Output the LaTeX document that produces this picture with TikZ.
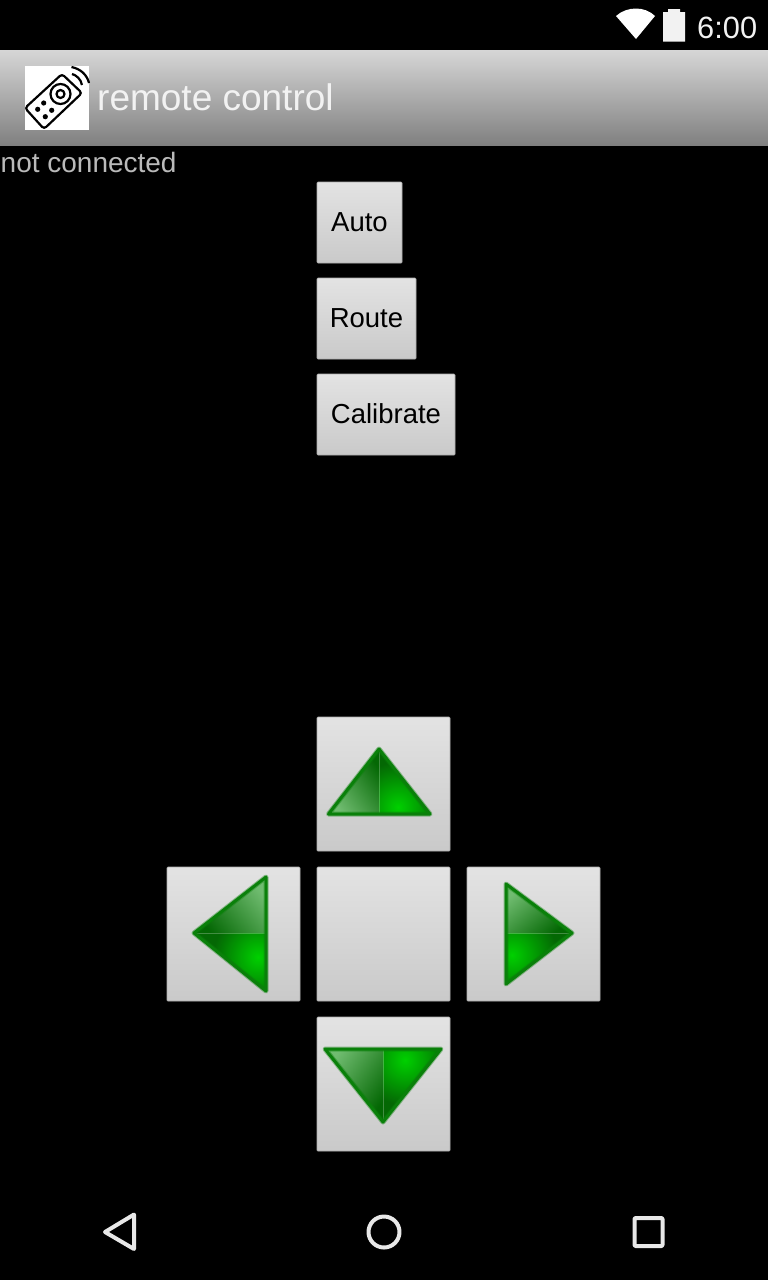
\documentclass[tikz,border=0pt]{standalone}
\usepackage{fontspec}
\setmainfont{Liberation Sans}
\definecolor{edgegreen}{HTML}{0A800A}
\definecolor{darkgreen}{HTML}{046804}
\definecolor{brightgreen}{HTML}{00D000}
\definecolor{lightgreen}{HTML}{70BC70}
\definecolor{navgray}{HTML}{E8E8E8}
\tikzset{
	padbutton/.style={draw=black!32, line width=0.7, rounded corners=1, top color=black!11, bottom color=black!21,
		anchor=north west, inner sep=0, outer sep=0, minimum height=81, text height=17, text depth=0,
		font=\fontsize{27.5}{30}\selectfont},
	arrowbutton/.style={padbutton, minimum width=133, minimum height=134},
	navicon/.style={draw=navgray, line width=4, line join=round},
	iconline/.style={black, line width=2.2},
}
\newcommand{\greenarrow}[6]{
	\fill[top color=lightgreen, bottom color=darkgreen, shading angle=#6] #1 -- #2 -- #4 -- cycle;
	\begin{scope}
	\clip #1 -- #3 -- #4 -- cycle;
	\fill[darkgreen] (150,700) rectangle (620,1160);
	\shade[inner color=brightgreen, outer color=darkgreen] #5 circle (45);
	\end{scope}
	\draw[white, opacity=0.25, line width=1] #1 -- #4;
	\draw[edgegreen, opacity=0.4, line width=5, line join=round] #1 -- #2 -- #3 -- cycle;
	\draw[edgegreen, line width=3, line join=round] #1 -- #2 -- #3 -- cycle;
}
\begin{document}
\begin{tikzpicture}[x=1pt, y=-1pt]
\useasboundingbox (0,0) rectangle (768,1280);
\fill[black] (0,0) rectangle (768,1280);
% status bar
\fill[white] (616,16) .. controls (627,6) and (645,6) .. (655,16) -- (636,39) -- cycle;
\fill[white!95!black] (668,12) -- (668,9) -- (680,9) -- (680,12) -- (685,12) -- (685,41.5) -- (663,41.5) -- (663,12) -- cycle;
\node[anchor=base west, inner sep=0, text=white!95!black, font=\fontsize{30.8}{32}\selectfont] (clock) at (697,38) {6:00};
% title bar
\shade[top color=black!16, bottom color=black!50] (0,50) rectangle (768,145.7);
\fill[white] (25,66) rectangle (89,130);
\draw[iconline, rounded corners=3] (62,74) -- (82,93) -- (44,129) -- (25,108) -- cycle;
\draw[iconline] (60.5,94) circle (10);
\draw[iconline] (60.5,94) circle (4);
\foreach \px/\py in {37.7/109.3, 43.7/103, 51.7/110.3, 45.3/116.7}
	\fill[black] (\px,\py) circle (2.6);
\draw[iconline] (71.5,67) .. controls (81,69) and (87,75) .. (89,83);
\draw[iconline] (72,74) .. controls (76,75) and (81,79) .. (82,85);
\node[anchor=base west, inner sep=0, text=white!95!black, font=\fontsize{37}{40}\selectfont] (title) at (97,110) {remote control};
\node[anchor=base west, inner sep=0, text=black!27, font=\fontsize{28}{30}\selectfont] (status) at (0.5,172) {not connected};
% mode buttons
\node[padbutton, minimum width=85] (auto) at (317,182) {Auto};
\node[padbutton, minimum width=99] (route) at (317,278) {Route};
\node[padbutton, minimum width=138] (calibrate) at (317,374) {Calibrate};
% arrow pad
\node[arrowbutton] (padup) at (317,717) {};
\node[arrowbutton] (padleft) at (167,867) {};
\node[arrowbutton] (padstop) at (317,867) {};
\node[arrowbutton] (padright) at (467,867) {};
\node[arrowbutton] (paddown) at (317,1017) {};
\greenarrow{(379,749)}{(328.5,814)}{(430,814)}{(379,814)}{(398,807)}{125}
\greenarrow{(194,933)}{(266,877)}{(266,991)}{(266,933)}{(258,957)}{-50}
\greenarrow{(572,933)}{(506,884)}{(506,984)}{(506,933)}{(512,955)}{40}
\greenarrow{(383,1122)}{(325,1049)}{(441,1049)}{(383,1049)}{(405,1060)}{55}
% navigation bar
\draw[navicon] (105,1232) -- (134,1214.5) -- (134,1249) -- cycle;
\draw[navicon] (384,1232) circle (15.5);
\draw[navicon, rounded corners=1] (634.5,1218) rectangle (662.5,1246);
\end{tikzpicture}
\end{document}
